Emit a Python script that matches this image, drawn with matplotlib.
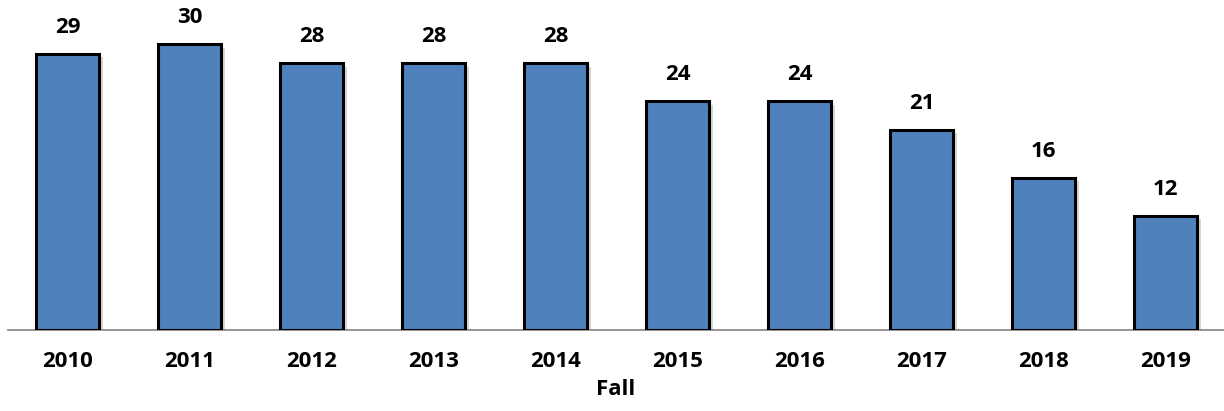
import matplotlib
matplotlib.use('Agg')
import matplotlib.pyplot as plt
import matplotlib.patheffects as pe

years = ['2010', '2011', '2012', '2013', '2014', '2015', '2016', '2017', '2018', '2019']
values = [29, 30, 28, 28, 28, 24, 24, 21, 16, 12]

plt.rcParams['font.family'] = ['Open Sans', 'DejaVu Sans']

fig = plt.figure(figsize=(12.24, 4.11), dpi=100)
ax = fig.add_axes([0.0065, 0.197, 0.9935, 0.803])

x = range(len(years))
bars = ax.bar(x, values, width=0.52, color='#4F81BD', edgecolor='black', linewidth=2.2, zorder=3)
for b in bars:
    b.set_path_effects([pe.SimplePatchShadow(offset=(2.5, -2.5), shadow_rgbFace='#888888', alpha=0.35), pe.Normal()])

for i, v in enumerate(values):
    ax.annotate(str(v), (i, v), xytext=(0, 19), textcoords='offset points',
                ha='center', va='center', fontsize=16, fontweight='bold')

ax.set_xlim(-0.49, 9.48)
ax.set_ylim(0, 34.63)
ax.set_xticks(list(x))
ax.set_xticklabels(years, fontsize=16, fontweight='bold')
ax.tick_params(axis='x', length=0, pad=15)
ax.set_yticks([])
for s in ['top', 'right', 'left']:
    ax.spines[s].set_visible(False)
ax.spines['bottom'].set_color('#8c8c8c')
ax.spines['bottom'].set_linewidth(1.3)
ax.set_xlabel('Fall', fontsize=16, fontweight='bold', labelpad=5)

fig.savefig('out.png', dpi=100)
